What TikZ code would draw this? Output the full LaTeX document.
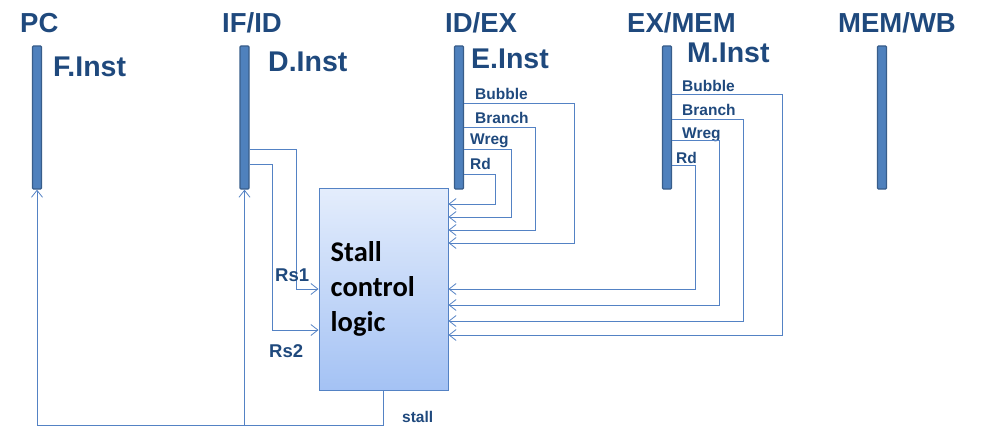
\documentclass[tikz,border=0pt]{standalone}
\usepackage{fontspec}
\setmainfont{Liberation Sans}
\newfontfamily\calibri{Carlito}
\usetikzlibrary{positioning,arrows.meta}
\definecolor{regblue}{RGB}{79,129,189}
\definecolor{regdark}{RGB}{56,93,138}
\definecolor{labblue}{RGB}{31,73,125}
\definecolor{wireblue}{RGB}{84,130,196}
\definecolor{boxtop}{RGB}{228,237,252}
\definecolor{boxbot}{RGB}{164,194,244}

\begin{document}
\begin{tikzpicture}[x=1pt,y=-1pt,
		reg/.style={
		  draw=regdark,
		  fill=regblue,
		  line width=1.3pt,
		  rounded corners=1pt,
		  minimum width=9pt,
		  minimum height=143pt,
		  inner sep=0pt},
		stage/.style={
		  font={\fontsize{27.5}{27.5}\selectfont\bfseries},
		  text=labblue,
		  inner sep=0pt,
		  anchor=base west},
		inst/.style={stage,font={\fontsize{28.5}{28.5}\selectfont\bfseries}},
		sig/.style={stage,font={\fontsize{15.5}{15.5}\selectfont\bfseries}},
		rs/.style={stage,font={\fontsize{18.5}{18.5}\selectfont\bfseries}},
		wire/.style={draw=wireblue,line width=0.8pt},
		tip/.style={wire,-{Straight Barb[length=7pt,width=11pt]}},
		]
		\useasboundingbox (0,0) rectangle (992,428);
		% pipeline registers
		\node[reg] (PC) at (37,117.5) {};
		\node[reg] (IFID) at (244.5,117.5) {};
		\node[reg] (IDEX) at (459,117.5) {};
		\node[reg] (EXMEM) at (667,117.5) {};
		\node[reg] (MEMWB) at (882,117.5) {};
		\node[stage] (lPC) at (20,33) {PC};
		\node[stage] (lIFID) at (222,33) {IF/ID};
		\node[stage] (lIDEX) at (445,33) {ID/EX};
		\node[stage] (lEXMEM) at (627,33) {EX/MEM};
		\node[stage] (lMEMWB) at (838,33) {MEM/WB};
		\node[inst] (FI) at (53,76) {F.Inst};
		\node[inst] (DI) at (268,71) {D.Inst};
		\node[inst] (EI) at (471,68) {E.Inst};
		\node[inst] (MI) at (687,63) {M.Inst};
		% stall unit
		\node[draw=wireblue,line width=1pt,top color=boxtop,bottom color=boxbot,
		  minimum width=129pt,minimum height=202pt,inner sep=0pt] (Stall) at (383.5,289) {};
		\node[anchor=west,align=left,inner sep=0pt,
		  font={\calibri\fontsize{28.5}{35}\selectfont\bfseries}] (SL) at ([xshift=12pt]Stall.west) {Stall\\control\\logic};
		% forwarded fields
		\foreach \nm/\txt/\xl/\yl in {bE/Bubble/475/99,brE/Branch/475/123,wE/Wreg/470/144,rE/Rd/470/169,
		  bM/Bubble/682/91,brM/Branch/682/115,wM/Wreg/682/138,rM/Rd/676/163}
		  \node[sig] (\nm) at (\xl,\yl) {\txt};
		\foreach \ya/\xb/\yb in {103/574/243,127/535/230,149/511/217,174/495/204}
		  \draw[tip] (IDEX.east |- 0,\ya) -| (\xb,\yb) -- (Stall.east |- 0,\yb);
		\foreach \ya/\xb/\yb in {94/782/335,119/743/321,140/719/305,165/695/289}
		  \draw[tip] (EXMEM.east |- 0,\ya) -| (\xb,\yb) -- (Stall.east |- 0,\yb);
		% source registers
		\draw[tip] (IFID.east |- 0,149) -| (296,289) -- (Stall.west |- 0,289);
		\draw[tip] (IFID.east |- 0,164) -| (272,330) -- (Stall.west |- 0,330);
		\node[rs] (Rs1) at (275,281) {Rs1};
		\node[rs] (Rs2) at (269,357) {Rs2};
		% stall signal
		\coordinate (sb) at (Stall.south |- 0,425);
		\draw[wire] (Stall.south) -- (sb) -- (PC.south |- sb);
		\draw[tip] (PC.south |- sb) -- (PC.south);
		\draw[tip] (IFID.south |- sb) -- (IFID.south);
		\node[sig] (st) at (402,422) {stall};
\end{tikzpicture}
\end{document}
